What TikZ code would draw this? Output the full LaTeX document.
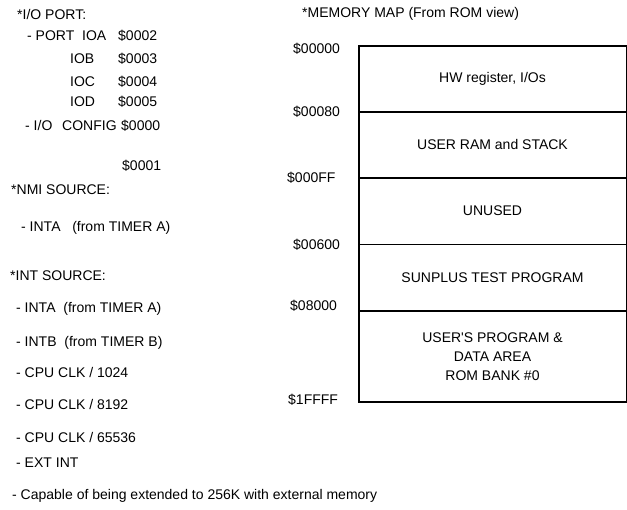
\documentclass[tikz,border=0pt]{standalone}
\usepackage{fontspec}
\setmainfont{Liberation Sans}
\usetikzlibrary{positioning}

\begin{document}
\begin{tikzpicture}[
        x=1pt, y=-1pt,
        node distance=0pt,
        txt/.style={
            anchor=base west, inner sep=0pt,
            font=\fontsize{14}{17}\selectfont, text=black
        },
        region/.style={
            rectangle, draw=black, line width=0.8pt, align=center,
            minimum width=267pt, minimum height=65pt,
            font=\fontsize{14}{19}\selectfont, text=black
        },
        frame/.style={draw=black, line width=1.6pt}
    ]
    \useasboundingbox (0,0) rectangle (627,510);

    % I/O port list
    \node[txt] (iohead) at (17,20) {*I/O PORT:};
    \node[txt] (port) at (27,41) {- PORT};
    \node[txt] (ioa) at (82,41) {IOA};
    \node[txt] (ioaadr) at (118,41) {\$0002};
    \node[txt] (iob) at (70,64) {IOB};
    \node[txt] (iobadr) at (118,64) {\$0003};
    \node[txt] (ioc) at (70,87) {IOC};
    \node[txt] (iocadr) at (118,87) {\$0004};
    \node[txt] (iod) at (70,107) {IOD};
    \node[txt] (iodadr) at (118,107) {\$0005};
    \node[txt] (iocfg) at (25,131) {- I/O};
    \node[txt] (config) at (62,131) {CONFIG};
    \node[txt] (cfgadr) at (121,131) {\$0000};
    \node[txt] (cfgadr2) at (122,171) {\$0001};

    % NMI / INT sources
    \node[txt] (nmihead) at (11,195) {*NMI SOURCE:};
    \node[txt] (nmia) at (21,232) {- INTA\ \ \ (from TIMER A)};
    \node[txt] (inthead) at (10,281) {*INT SOURCE:};
    \node[txt] (inta) at (16,313) {- INTA\ \ (from TIMER A)};
    \node[txt] (intb) at (16,347) {- INTB\ \ (from TIMER B)};
    \node[txt] (clk1) at (16,378) {- CPU CLK / 1024};
    \node[txt] (clk2) at (16,410) {- CPU CLK / 8192};
    \node[txt] (clk3) at (16,443) {- CPU CLK / 65536};
    \node[txt] (ext) at (16,468) {- EXT INT};
    \node[txt] (note) at (12,500) {- Capable of being extended to 256K with external memory};

    % Memory map
    \node[txt] (maphead) at (302,18) {*MEMORY MAP (From ROM view)};
    \node[region, anchor=north] (hw) at (492.5,46) {HW register, I/Os};
    \node[region, below=of hw] (ram) {USER RAM and STACK};
    \node[region, below=of ram, minimum height=66pt] (unused) {UNUSED};
    \node[region, below=of unused, minimum height=66pt] (test) {SUNPLUS TEST PROGRAM};
    \node[region, below=of test, minimum height=90pt] (rom) {USER\textquotesingle S PROGRAM \&\\DATA AREA\\ROM BANK \#0};
    \draw[frame] (hw.north west) rectangle (rom.south east);

    % Addresses
    \node[txt] (a0) at (293,54) {\$00000};
    \node[txt] (a1) at (293,117) {\$00080};
    \node[txt] (a2) at (287,183) {\$000FF};
    \node[txt] (a3) at (293,250) {\$00600};
    \node[txt] (a4) at (290,311) {\$08000};
    \node[txt] (a5) at (288,405) {\$1FFFF};
\end{tikzpicture}
\end{document}
